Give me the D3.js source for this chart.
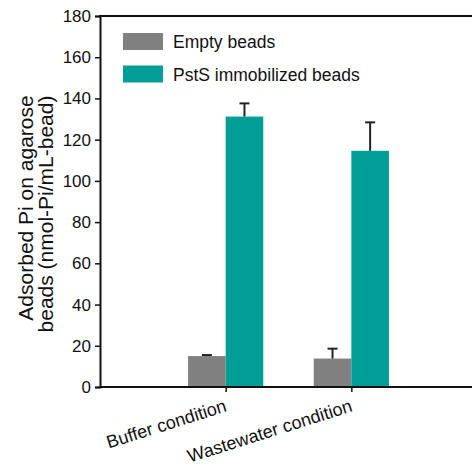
<!DOCTYPE html>
<html>
<head>
<meta charset="utf-8">
<style>
  body { margin: 0; background: #fff; }
  svg { display: block; font-family: "Liberation Sans", Arial, sans-serif; }
</style>
</head>
<body>
<svg width="472" height="471"></svg>
<script src="https://cdn.jsdelivr.net/npm/d3@7"></script>
<script>
var categories = ["Buffer condition", "Wastewater condition"],
    seriesNames = ["Empty beads", "PstS immobilized beads"],
    emptyValues = [15, 13.8],
    emptyErrors = [0.5, 4.8],
    pstsValues = [131.2, 114.6],
    pstsErrors = [6.4, 13.8],
    yTicks = [0, 20, 40, 60, 80, 100, 120, 140, 160, 180];

var colors = ["#808080", "#009e96"];
var series = [
  { name: seriesNames[0], values: emptyValues, errors: emptyErrors },
  { name: seriesNames[1], values: pstsValues, errors: pstsErrors }
];

var svg = d3.select("svg");
var plotLeft = 100, plotTop = 16, plotBottom = 387;

// category slots sit at 1 and 2 on a 0..3 axis; the right end runs off the picture
var x = d3.scaleLinear().domain([0, 3]).range([plotLeft, 477]);
var y = d3.scaleLinear().domain([0, 180]).range([plotBottom, plotTop]);
var barW = 37.6;

// bars
series.forEach(function(s, si) {
  svg.append("g").selectAll("rect")
    .data(s.values)
    .enter().append("rect")
    .attr("x", function(d, i) { return x(i + 1) + (si - 1) * barW; })
    .attr("y", function(d) { return y(d); })
    .attr("width", barW)
    .attr("height", function(d) { return y(0) - y(d); })
    .attr("fill", colors[si]);

  // error bars (upper only)
  var eg = svg.append("g").attr("stroke", "#222").attr("stroke-width", 2);
  s.values.forEach(function(v, i) {
    var cx = x(i + 1) + (si - 0.5) * barW;
    eg.append("line").attr("x1", cx).attr("x2", cx)
      .attr("y1", y(v)).attr("y2", y(v + s.errors[i]));
    eg.append("line").attr("x1", cx - 5).attr("x2", cx + 5)
      .attr("y1", y(v + s.errors[i])).attr("y2", y(v + s.errors[i]));
  });
});

// y axis
var yAxis = d3.axisLeft(y).tickValues(yTicks).tickSize(5).tickPadding(4);
var gy = svg.append("g").attr("transform", "translate(" + plotLeft + ",0)").call(yAxis);
gy.select(".domain").attr("stroke", "#111").attr("stroke-width", 2);
gy.selectAll(".tick line").attr("stroke", "#111").attr("stroke-width", 1.5);
gy.selectAll(".tick text").attr("font-size", 17).attr("fill", "#111")
  .attr("font-family", "Liberation Sans, Arial, sans-serif");

// x axis
var xAxis = d3.axisBottom(x).tickValues([1, 2]).tickSize(5).tickFormat(function(d) { return ""; });
var gx = svg.append("g").attr("transform", "translate(0," + plotBottom + ")").call(xAxis);
gx.select(".domain").attr("stroke", "#111").attr("stroke-width", 2).attr("d", "M" + plotLeft + ",0H477");
gx.selectAll(".tick line").attr("stroke", "#111").attr("stroke-width", 1.5);

// rotated category labels
svg.append("g").selectAll("text")
  .data(categories)
  .enter().append("text")
  .attr("transform", function(d, i) {
    return "translate(" + (x(i + 1) + 2) + "," + (plotBottom + 24) + ") rotate(-17.5)";
  })
  .attr("text-anchor", "end")
  .attr("font-size", 18)
  .attr("fill", "#111")
  .text(function(d) { return d; });

// top frame line
svg.append("line")
  .attr("x1", plotLeft - 1).attr("x2", 477)
  .attr("y1", plotTop).attr("y2", plotTop)
  .attr("stroke", "#111").attr("stroke-width", 2);

// y axis title
var yt = svg.append("text")
  .attr("transform", "translate(33,208) rotate(-90)")
  .attr("text-anchor", "middle")
  .attr("font-size", 21)
  .attr("fill", "#111");
yt.append("tspan").attr("x", 0).attr("dy", 0).text("Adsorbed Pi on agarose");
yt.append("tspan").attr("x", -6).attr("dy", 20).text("beads (nmol-Pi/mL-bead)");

// legend
var lg = svg.append("g");
series.forEach(function(s, si) {
  lg.append("rect")
    .attr("x", 123).attr("y", 33 + si * 32.5)
    .attr("width", 40).attr("height", 17)
    .attr("fill", colors[si]);
  lg.append("text")
    .attr("x", 173).attr("y", 48 + si * 32.5)
    .attr("font-size", 17.5)
    .attr("fill", "#111")
    .text(s.name);
});
</script>
</body>
</html>
